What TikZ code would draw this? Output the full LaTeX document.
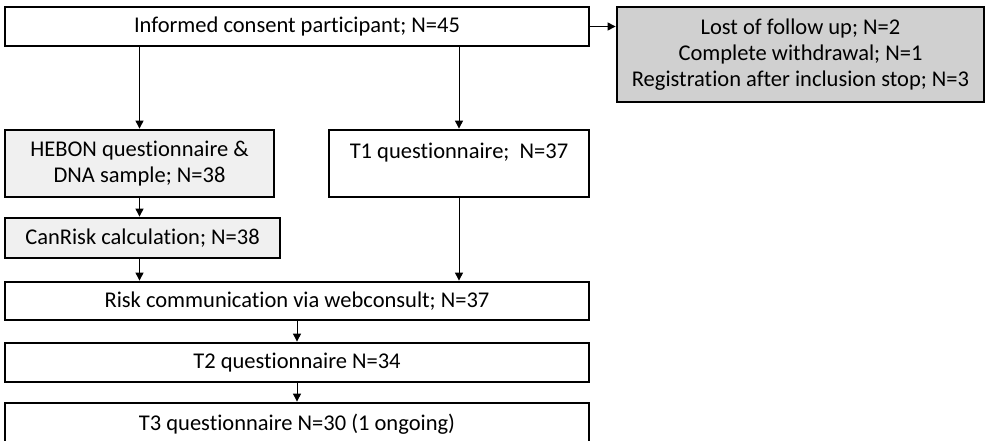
\documentclass[tikz,border=0pt]{standalone}
\usepackage{fontspec}
\setmainfont[Ligatures=NoCommon]{Carlito}
\usetikzlibrary{arrows.meta}
\definecolor{lostgray}{RGB}{208,208,208}
\definecolor{stepgray}{RGB}{240,240,240}
\begin{document}
\begin{tikzpicture}[x=1pt, y=-1pt,
                    fbox/.style = {shape = rectangle,
                                   draw = black,
                                   line width = 2.8pt,
                                   inner sep = 0pt,
                                   align = center,
                                   font = \fontsize{22.5}{26}\selectfont},
                    arr/.style = {line width = 1pt,
                                  -{Triangle[length=8pt, width=8pt]}}]
		\useasboundingbox (0,0) rectangle (988,441);
		\node[fbox, minimum width = 584pt, minimum height = 39pt] (consent) at (297,26.5) {Informed consent participant; N=45};
		\node[fbox, fill = lostgray, minimum width = 367pt, minimum height = 95pt] (lost) at (800.5,54.5) {Lost of follow up; N=2\\Complete withdrawal; N=1\\Registration after inclusion stop; N=3};
		\node[fbox, fill = stepgray, minimum width = 269pt, minimum height = 67pt] (hebon) at (139.5,163.5) {HEBON questionnaire \&\\DNA sample; N=38};
		\node[fbox, minimum width = 260pt, minimum height = 67pt] (t1) at (459,163.5) {T1 questionnaire;\ \ N=37\\\mbox{}};
		\node[fbox, fill = stepgray, minimum width = 275pt, minimum height = 40pt] (canrisk) at (142.5,238) {CanRisk calculation; N=38};
		\node[fbox, minimum width = 584pt, minimum height = 38pt] (risk) at (297,301) {Risk communication via webconsult; N=37};
		\node[fbox, minimum width = 584pt, minimum height = 39pt] (t2) at (297,362.5) {T2 questionnaire N=34};
		\node[fbox, minimum width = 584pt, minimum height = 42pt] (t3) at (297,424) {T3 questionnaire N=30 (1 ongoing)};
		\draw[arr] (consent.east) -- (consent.east -| lost.west);
		\draw[arr] (consent.south -| hebon.north) -- (hebon.north);
		\draw[arr] (consent.south -| t1.north) -- (t1.north);
		\draw[arr] (hebon.south) -- (hebon.south |- canrisk.north);
		\draw[arr] (hebon.south |- canrisk.south) -- (hebon.south |- risk.north);
		\draw[arr] (t1.south) -- (t1.south |- risk.north);
		\draw[arr] (risk.south) -- (t2.north);
		\draw[arr] (t2.south) -- (t3.north);
	\end{tikzpicture}
\end{document}
